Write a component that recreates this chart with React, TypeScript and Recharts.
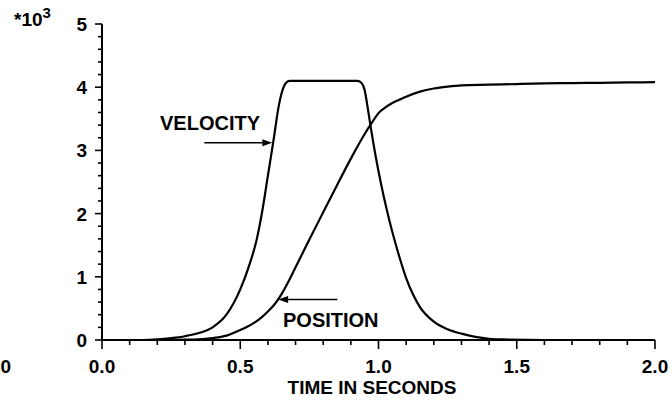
import { LineChart, Line, XAxis, YAxis, ReferenceLine } from "recharts";

// velocity trace (thousands), sampled along time in seconds
const velT = [0, 0.1, 0.15, 0.2, 0.25, 0.3, 0.35, 0.4, 0.45, 0.5, 0.53, 0.56, 0.58, 0.6, 0.62, 0.64, 0.655, 0.668, 0.68, 0.75, 0.85, 0.925, 0.94, 0.95, 0.96, 0.97, 0.98, 0.99, 1.0, 1.02, 1.04, 1.06, 1.08, 1.1, 1.125, 1.15, 1.2, 1.25, 1.3, 1.35, 1.4, 1.45, 1.6, 1.8, 2.0];
const velV = [0, 0, 0, 0.01, 0.03, 0.06, 0.11, 0.2, 0.4, 0.8, 1.15, 1.6, 2.05, 2.6, 3.15, 3.72, 3.98, 4.08, 4.1, 4.1, 4.1, 4.1, 4.06, 3.95, 3.7, 3.42, 3.15, 2.9, 2.67, 2.25, 1.88, 1.55, 1.25, 0.98, 0.72, 0.52, 0.29, 0.17, 0.1, 0.05, 0.02, 0.01, 0, 0, 0];

// position trace (thousands)
const posT = [0, 0.2, 0.3, 0.35, 0.4, 0.45, 0.5, 0.525, 0.55, 0.575, 0.6, 0.625, 0.65, 0.675, 0.7, 0.725, 0.75, 0.8, 0.85, 0.9, 0.95, 0.975, 1.0, 1.025, 1.05, 1.075, 1.1, 1.15, 1.2, 1.25, 1.3, 1.4, 1.5, 1.6, 1.7, 1.8, 1.9, 2.0];
const posV = [0, 0, 0.005, 0.01, 0.03, 0.07, 0.16, 0.21, 0.27, 0.35, 0.45, 0.57, 0.73, 0.93, 1.15, 1.37, 1.59, 2.02, 2.45, 2.87, 3.26, 3.43, 3.59, 3.68, 3.75, 3.8, 3.85, 3.93, 3.98, 4.01, 4.03, 4.04, 4.05, 4.06, 4.065, 4.07, 4.075, 4.08];

const xTicks = [0, 0.1, 0.2, 0.3, 0.4, 0.5, 0.6, 0.7, 0.8, 0.9, 1.0, 1.1, 1.2, 1.3, 1.4, 1.5, 1.6, 1.7, 1.8, 1.9, 2.0];
const xMajor = [0, 0.5, 1.0, 1.5, 2.0];
const xLabels = ["0.0", "0.5", "1.0", "1.5", "2.0"];
const yTicks = [0, 0.2, 0.4, 0.6, 0.8, 1, 1.2, 1.4, 1.6, 1.8, 2, 2.2, 2.4, 2.6, 2.8, 3, 3.2, 3.4, 3.6, 3.8, 4, 4.2, 4.4, 4.6, 4.8, 5];
const yMajor = [0, 1, 2, 3, 4, 5];
const yLabels = ["0", "1", "2", "3", "4", "5"];

// arrow segments in data units: [tail, tip]
const velArrow = [{ x: 0.37, y: 3.12 }, { x: 0.616, y: 3.12 }];
const posArrow = [{ x: 0.851, y: 0.64 }, { x: 0.637, y: 0.64 }];

const FONT = "'Liberation Sans', Arial, Helvetica, sans-serif";

const velData = velT.map((t, i) => ({ t, v: velV[i] }));
const posData = posT.map((t, i) => ({ t, v: posV[i] }));

function XTick(props: any) {
  const { x, y, payload } = props;
  const idx = xMajor.findIndex((m) => Math.abs(m - payload.value) < 1e-6);
  const major = idx >= 0;
  return (
    <g>
      <line x1={x} x2={x} y1={y} y2={y + (major ? 9 : 5)} stroke="#000" strokeWidth={1.6} />
      {major && (
        <text x={x} y={y + 33} textAnchor="middle" fontFamily={FONT} fontWeight="bold" fontSize={19} fill="#000">
          {xLabels[idx]}
        </text>
      )}
    </g>
  );
}

function YTick(props: any) {
  const { x, y, payload } = props;
  const idx = yMajor.findIndex((m) => Math.abs(m - payload.value) < 1e-6);
  const major = idx >= 0;
  return (
    <g>
      <line x1={x} x2={x - (major ? 7 : 4)} y1={y} y2={y} stroke="#000" strokeWidth={1.6} />
      {major && (
        <text x={x - 15} y={y + 7} textAnchor="end" fontFamily={FONT} fontWeight="bold" fontSize={19} fill="#000">
          {yLabels[idx]}
        </text>
      )}
    </g>
  );
}

function Arrow(props: any) {
  const { x1, y1, x2, y2 } = props;
  const dx = x2 - x1;
  const dy = y2 - y1;
  const len = Math.sqrt(dx * dx + dy * dy) || 1;
  const ux = dx / len;
  const uy = dy / len;
  const hl = 10;
  const hw = 3.5;
  const bx = x2 - ux * hl;
  const by = y2 - uy * hl;
  return (
    <g>
      <line x1={x1} y1={y1} x2={bx} y2={by} stroke="#000" strokeWidth={1.6} />
      <polygon
        points={`${x2},${y2} ${bx - uy * hw},${by + ux * hw} ${bx + uy * hw},${by - ux * hw}`}
        fill="#000"
      />
    </g>
  );
}

export default function App() {
  return (
    <div style={{ position: "absolute", left: 0, top: 0, width: 672, height: 402, background: "#fff" }}>
      <LineChart width={672} height={402} margin={{ top: 24, right: 17, bottom: 0, left: 0 }}>
        <XAxis
          type="number"
          dataKey="t"
          domain={[0, 2]}
          ticks={xTicks}
          interval={0}
          tick={<XTick />}
          tickLine={false}
          tickSize={0}
          tickMargin={0}
          height={62}
          axisLine={{ stroke: "#000", strokeWidth: 2 }}
          allowDataOverflow
        />
        <YAxis
          type="number"
          domain={[0, 5]}
          ticks={yTicks}
          interval={0}
          tick={<YTick />}
          tickLine={false}
          tickSize={0}
          tickMargin={0}
          width={102}
          axisLine={{ stroke: "#000", strokeWidth: 2 }}
          allowDataOverflow
        />
        <Line
          data={velData}
          dataKey="v"
          type="monotone"
          dot={false}
          stroke="#000"
          strokeWidth={2.2}
          isAnimationActive={false}
        />
        <Line
          data={posData}
          dataKey="v"
          type="monotone"
          dot={false}
          stroke="#000"
          strokeWidth={2.2}
          isAnimationActive={false}
        />
        <ReferenceLine segment={velArrow} shape={<Arrow />} ifOverflow="visible" />
        <ReferenceLine segment={posArrow} shape={<Arrow />} ifOverflow="visible" />
      </LineChart>
      <svg
        width={672}
        height={402}
        style={{ position: "absolute", left: 0, top: 0, pointerEvents: "none" }}
        fontFamily={FONT}
        fontWeight="bold"
        fill="#000"
      >
        <text x={14} y={26} fontSize={19}>
          *10
          <tspan dy={-8} fontSize={15}>3</tspan>
        </text>
        <text x={11} y={373} fontSize={19} textAnchor="end">0</text>
        <text x={160} y={130} fontSize={20}>VELOCITY</text>
        <text x={283} y={327} fontSize={20}>POSITION</text>
        <text x={372} y={394} fontSize={19} textAnchor="middle">TIME IN SECONDS</text>
      </svg>
    </div>
  );
}
